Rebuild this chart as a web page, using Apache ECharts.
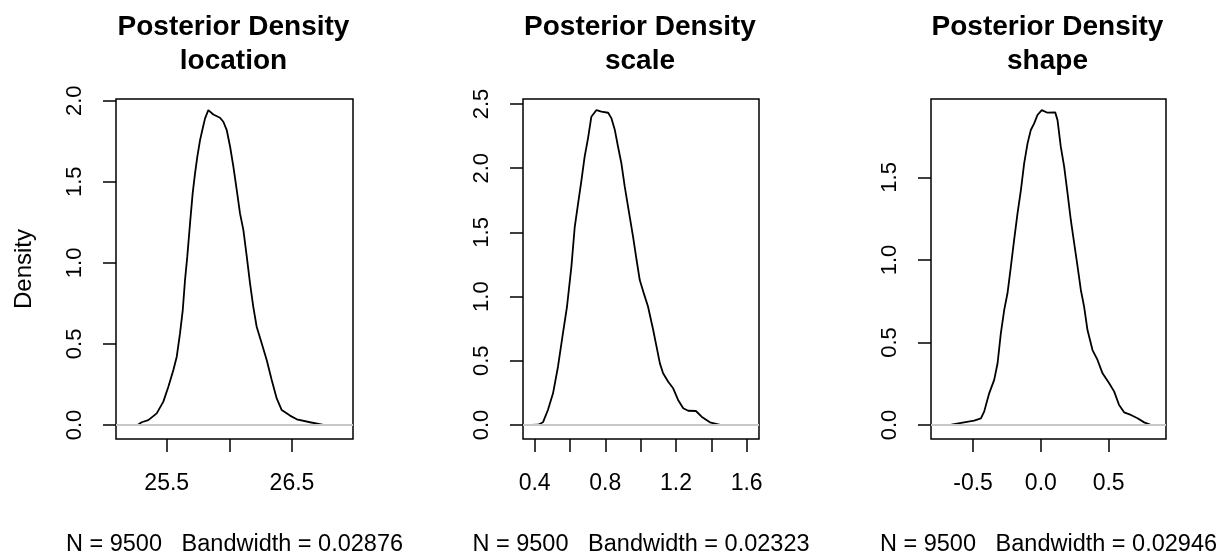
<!DOCTYPE html>
<html>
<head>
<meta charset="utf-8">
<script src="https://cdn.jsdelivr.net/npm/echarts@6/dist/echarts.min.js"></script>
<style>html,body{margin:0;padding:0;background:#fff}#c{width:1228px;height:553px}</style>
</head>
<body>
<div id="c"></div>
<script>
// ---- data ----
const titles = ["Posterior Density\nlocation", "Posterior Density\nscale", "Posterior Density\nshape"];
const footers = ["N = 9500   Bandwidth = 0.02876", "N = 9500   Bandwidth = 0.02323", "N = 9500   Bandwidth = 0.02946"];

const locX = [25.165, 25.22, 25.27, 25.30, 25.353, 25.42, 25.473, 25.513, 25.553, 25.58, 25.606, 25.628, 25.646, 25.664, 25.686, 25.707, 25.726, 25.744, 25.766, 25.787, 25.806, 25.832, 25.872, 25.925, 25.952, 25.979, 26.006, 26.032, 26.059, 26.085, 26.112, 26.139, 26.165, 26.191, 26.218, 26.258, 26.298, 26.338, 26.378, 26.418, 26.484, 26.538, 26.644, 26.75, 26.85, 26.917];
const locY = [0.0002, 0.0005, 0.002, 0.017, 0.030, 0.072, 0.144, 0.236, 0.339, 0.421, 0.565, 0.709, 0.894, 1.038, 1.243, 1.428, 1.552, 1.654, 1.757, 1.829, 1.891, 1.942, 1.915, 1.895, 1.870, 1.819, 1.716, 1.593, 1.449, 1.305, 1.202, 1.038, 0.874, 0.729, 0.606, 0.504, 0.401, 0.277, 0.164, 0.092, 0.058, 0.035, 0.017, 0.001, 0.0005, 0.0002];

const sclX = [0.384, 0.42, 0.447, 0.475, 0.504, 0.532, 0.560, 0.583, 0.608, 0.627, 0.646, 0.665, 0.683, 0.702, 0.721, 0.750, 0.778, 0.816, 0.835, 0.854, 0.872, 0.891, 0.910, 0.935, 0.957, 0.977, 0.995, 1.018, 1.042, 1.071, 1.090, 1.109, 1.127, 1.156, 1.184, 1.212, 1.241, 1.269, 1.313, 1.345, 1.392, 1.45, 1.53, 1.620];
const sclY = [0.0002, 0.002, 0.021, 0.117, 0.247, 0.454, 0.714, 0.921, 1.233, 1.544, 1.727, 1.908, 2.090, 2.233, 2.401, 2.453, 2.440, 2.432, 2.388, 2.297, 2.167, 2.038, 1.856, 1.648, 1.467, 1.285, 1.129, 1.025, 0.921, 0.740, 0.610, 0.480, 0.403, 0.337, 0.286, 0.195, 0.130, 0.111, 0.109, 0.065, 0.021, 0.001, 0.0005, 0.0002];

const shpX = [-0.746, -0.66, -0.566, -0.492, -0.442, -0.418, -0.381, -0.344, -0.319, -0.295, -0.270, -0.246, -0.221, -0.197, -0.172, -0.147, -0.123, -0.098, -0.074, -0.049, -0.025, 0.007, 0.049, 0.106, 0.123, 0.147, 0.172, 0.197, 0.221, 0.246, 0.271, 0.295, 0.319, 0.344, 0.381, 0.418, 0.455, 0.504, 0.541, 0.577, 0.614, 0.664, 0.713, 0.762, 0.81, 0.859];
const shpY = [0.0002, 0.002, 0.016, 0.026, 0.040, 0.081, 0.192, 0.273, 0.374, 0.555, 0.697, 0.798, 0.959, 1.121, 1.282, 1.423, 1.585, 1.706, 1.787, 1.827, 1.878, 1.908, 1.892, 1.894, 1.847, 1.686, 1.565, 1.403, 1.242, 1.101, 0.959, 0.818, 0.717, 0.575, 0.454, 0.394, 0.313, 0.253, 0.202, 0.121, 0.077, 0.061, 0.041, 0.016, 0.001, 0.0002];

const xTicks = [[25.5, 26.0, 26.5], [0.4, 0.6, 0.8, 1.0, 1.2, 1.4, 1.6], [-0.5, 0.0, 0.5]];
const xLabels = [[25.5, 26.5], [0.4, 0.8, 1.2, 1.6], [-0.5, 0.0, 0.5]];
const yTicks = [[0, 0.5, 1.0, 1.5, 2.0], [0, 0.5, 1.0, 1.5, 2.0, 2.5], [0, 0.5, 1.0, 1.5]];

// ---- layout ----
const FONT = "Liberation Sans";
const grids = [
  {left: 116, top: 99, width: 237, height: 340, xMin: 25.095, xMax: 26.987, yMin: -0.0863, yMax: 2.0105},
  {left: 523, top: 99, width: 236, height: 340, xMin: 0.334, xMax: 1.670, yMin: -0.109, yMax: 2.539},
  {left: 931, top: 99, width: 235, height: 340, xMin: -0.810, xMax: 0.923, yMin: -0.0848, yMax: 1.975}
];
const seriesData = [[locX, locY], [sclX, sclY], [shpX, shpY]];
const fmt1 = v => (Math.abs(v) < 1e-9 ? 0 : v).toFixed(1);

const option = {
  backgroundColor: '#fff',
  animation: false,
  title: grids.map((g, i) => ({
    text: titles[i],
    left: g.left + g.width / 2 - 1,
    top: 10,
    padding: 0,
    textAlign: 'center',
    textStyle: {fontFamily: FONT, fontWeight: 'bold', fontSize: 28, lineHeight: 34, color: '#000'}
  })),
  grid: grids.map(g => ({
    left: g.left, top: g.top, width: g.width, height: g.height,
    containLabel: false, outerBoundsMode: 'none',
    show: true, borderColor: '#000', borderWidth: 1.5, backgroundColor: 'transparent'
  })),
  xAxis: grids.map((g, i) => ({
    type: 'value', gridIndex: i, min: g.xMin, max: g.xMax, position: 'bottom',
    axisLine: {show: false, onZero: false},
    splitLine: {show: false},
    axisTick: {show: true, inside: false, length: 13, customValues: xTicks[i], lineStyle: {color: '#000', width: 1.5}},
    axisLabel: {show: true, margin: 33, customValues: xLabels[i], formatter: fmt1,
      fontFamily: FONT, fontSize: 23, color: '#000'},
    name: footers[i], nameLocation: 'middle', nameGap: 94,
    nameTextStyle: {fontFamily: FONT, fontSize: 23.5, color: '#000'}
  })),
  yAxis: grids.map((g, i) => ({
    type: 'value', gridIndex: i, min: g.yMin, max: g.yMax, position: 'left',
    axisLine: {show: false, onZero: false},
    splitLine: {show: false},
    axisTick: {show: true, inside: false, length: 13, customValues: yTicks[i], lineStyle: {color: '#000', width: 1.5}},
    axisLabel: {show: true, rotate: 90, margin: 30, customValues: yTicks[i], formatter: fmt1,
      fontFamily: FONT, fontSize: 22, color: '#000'},
    name: i === 0 ? 'Density' : '', nameLocation: 'middle', nameGap: 80, nameRotate: 90,
    nameTextStyle: {fontFamily: FONT, fontSize: 24, color: '#000'}
  })),
  series: seriesData.map((d, i) => ({
    type: 'line', xAxisIndex: i, yAxisIndex: i,
    data: d[0].map((x, k) => [x, d[1][k]]),
    showSymbol: false, symbol: 'none', smooth: false,
    lineStyle: {color: '#000', width: 1.8},
    z: 2,
    markLine: {
      silent: true, symbol: 'none', label: {show: false},
      lineStyle: {color: '#c8c8c8', width: 2.2, type: 'solid'},
      data: [{yAxis: 0}],
      z: 5
    }
  }))
};

const chart = echarts.init(document.getElementById('c'), null, {renderer: 'canvas'});
chart.setOption(option);
</script>
</body>
</html>
